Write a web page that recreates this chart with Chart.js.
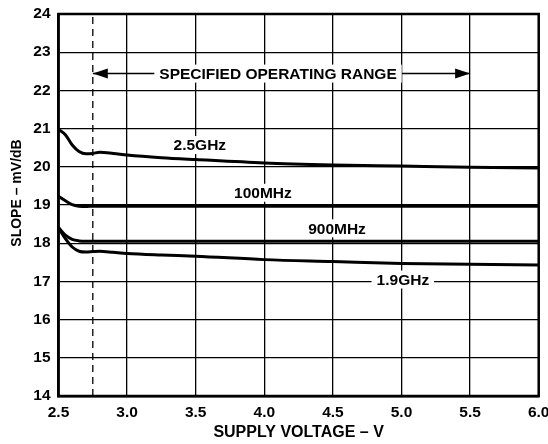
<!DOCTYPE html>
<html><head><meta charset="utf-8">
<script src="https://cdn.jsdelivr.net/npm/chart.js@4.4.1/dist/chart.umd.min.js"></script>
<style>html,body{margin:0;padding:0;background:#fff}#wrap{width:548px;height:444px}</style>
</head><body><div id="wrap"><canvas id="c" width="548" height="444"></canvas></div>
<script>
// ---- data ----
const voltage     = [2.5, 2.55, 2.6, 2.65, 2.7, 2.75, 2.8, 2.9, 3.0, 3.25, 3.5, 4.0, 4.5, 5.0, 5.5, 6.0];
const slope2_5GHz = [20.98, 20.84, 20.57, 20.40, 20.34, 20.35, 20.38, 20.35, 20.31, 20.24, 20.19, 20.10, 20.05, 20.02, 19.99, 19.97];
const slope100MHz = [19.23, 19.11, 19.01, 18.97, 18.96, 18.97, 18.97, 18.97, 18.97, 18.97, 18.97, 18.97, 18.97, 18.97, 18.97, 18.97];
const slope900MHz = [18.41, 18.21, 18.10, 18.06, 18.05, 18.05, 18.05, 18.05, 18.05, 18.05, 18.05, 18.05, 18.05, 18.05, 18.05, 18.05];
const slope1_9GHz = [18.39, 18.12, 17.90, 17.79, 17.77, 17.78, 17.79, 17.76, 17.73, 17.69, 17.66, 17.57, 17.52, 17.47, 17.45, 17.43];
const xTicks = [2.5, 3.0, 3.5, 4.0, 4.5, 5.0, 5.5, 6.0];
const yTicks = [14, 15, 16, 17, 18, 19, 20, 21, 22, 23, 24];
const minVoltageLine = 2.75;
const rangeStart = 2.75, rangeEnd = 5.5, rangeLevel = 22.44;
const labelTexts = ["2.5GHz", "100MHz", "900MHz", "1.9GHz", "SPECIFIED OPERATING RANGE"];
const labelX     = [3.53, 3.99, 4.53, 5.01, 4.10];
const labelY     = [20.57, 19.32, 18.39, 17.05, 22.44];
const xTitle = "SUPPLY VOLTAGE – V";
const yTitle = "SLOPE – mV/dB";

const FONT = "'Liberation Sans', Arial, sans-serif";
const pts = (xs, ys) => xs.map((x, i) => ({x, y: ys[i]}));
const curve = d => ({data: d, borderColor: '#000', borderWidth: 3, pointRadius: 0, cubicInterpolationMode: 'monotone', fill: false});

const overlay = {
  id: 'overlay',
  afterDatasetsDraw(chart) {
    const ctx = chart.ctx, xs = chart.scales.x, ys = chart.scales.y, a = chart.chartArea;
    const meta = chart.getDatasetMeta(5);
    const p0 = meta.data[0], p1 = meta.data[1];
    ctx.save();
    ctx.fillStyle = '#000';
    ctx.beginPath(); ctx.moveTo(p0.x, p0.y); ctx.lineTo(p0.x + 15, p0.y - 5); ctx.lineTo(p0.x + 15, p0.y + 5); ctx.closePath(); ctx.fill();
    ctx.beginPath(); ctx.moveTo(p1.x, p1.y); ctx.lineTo(p1.x - 15, p1.y - 5); ctx.lineTo(p1.x - 15, p1.y + 5); ctx.closePath(); ctx.fill();
    ctx.font = "bold 15.5px " + FONT;
    ctx.textAlign = 'center'; ctx.textBaseline = 'middle';
    labelTexts.forEach((t, i) => {
      const x = xs.getPixelForValue(labelX[i]), y = ys.getPixelForValue(labelY[i]);
      const w = ctx.measureText(t).width;
      ctx.fillStyle = '#fff';
      ctx.fillRect(x - w / 2 - 5, y - 9, w + 10, 18);
      ctx.fillStyle = '#000';
      ctx.fillText(t, x, y + 1);
    });
    ctx.strokeStyle = '#000'; ctx.lineWidth = 2.5;
    ctx.strokeRect(a.left, a.top, a.right - a.left, a.bottom - a.top);
    ctx.translate(17, (a.top + a.bottom) / 2 - 12);
    ctx.rotate(-Math.PI / 2);
    ctx.font = "bold 14px " + FONT;
    ctx.fillText(yTitle, 0, 0);
    ctx.restore();
  }
};

new Chart(document.getElementById('c'), {
  type: 'line',
  data: {
    datasets: [
      curve(pts(voltage, slope2_5GHz)),
      curve(pts(voltage, slope100MHz)),
      curve(pts(voltage, slope900MHz)),
      curve(pts(voltage, slope1_9GHz)),
      {data: [{x: minVoltageLine, y: yTicks[0]}, {x: minVoltageLine, y: yTicks[yTicks.length - 1]}],
       borderColor: '#000', borderWidth: 1.3, borderDash: [7, 5], pointRadius: 0, tension: 0},
      {data: [{x: rangeStart, y: rangeLevel}, {x: rangeEnd, y: rangeLevel}],
       borderColor: '#000', borderWidth: 1.5, pointRadius: 0, tension: 0}
    ]
  },
  options: {
    responsive: false, animation: false, devicePixelRatio: 1,
    layout: {padding: {top: 14, right: 9.3, left: 0, bottom: 0}},
    plugins: {legend: {display: false}, tooltip: {enabled: false}},
    scales: {
      x: {
        type: 'linear', min: 2.5, max: 6.0,
        afterBuildTicks: s => { s.ticks = xTicks.map(v => ({value: v})); },
        afterFit: s => { s.height = 48; s.paddingLeft = 0; s.paddingRight = 0; },
        grid: {color: '#000', lineWidth: 1.3, drawTicks: false},
        border: {color: '#000', width: 2.5},
        ticks: {color: '#000', padding: 7, maxRotation: 0, font: {family: FONT, size: 15.5, weight: 'bold'}, callback: v => v.toFixed(1)},
        title: {display: true, text: xTitle, color: '#000', padding: {top: 0, bottom: 2}, font: {family: FONT, size: 16, weight: 'bold'}}
      },
      y: {
        type: 'linear', min: 14, max: 24,
        afterBuildTicks: s => { s.ticks = yTicks.map(v => ({value: v})); },
        afterFit: s => { s.width = 58.5; s.paddingTop = 0; s.paddingBottom = 0; },
        grid: {color: '#000', lineWidth: 1.3, drawTicks: false},
        border: {color: '#000', width: 2.5},
        ticks: {color: '#000', padding: 8, font: {family: FONT, size: 15.5, weight: 'bold'}, callback: v => String(v)},
        title: {display: false}
      }
    }
  },
  plugins: [overlay]
});
</script>
</body></html>
